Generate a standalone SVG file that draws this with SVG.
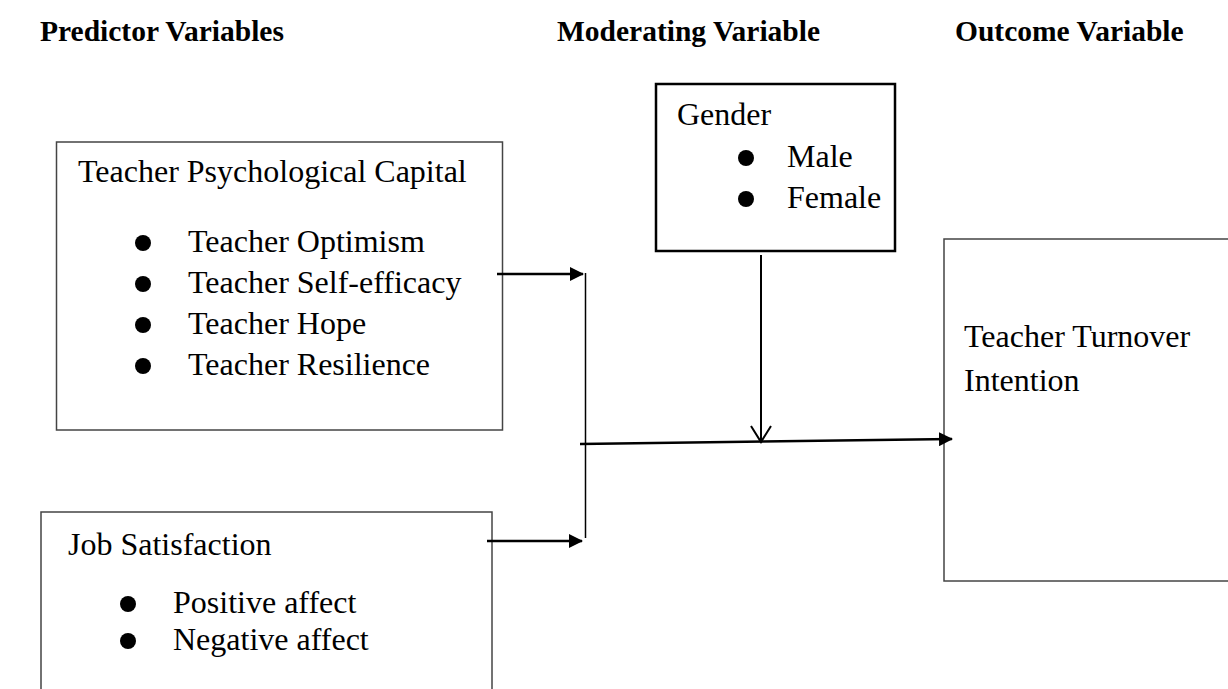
<svg xmlns="http://www.w3.org/2000/svg" width="1228" height="689" viewBox="0 0 1228 689">
<defs>
<style>
.hdr{font-family:"Liberation Serif","Times New Roman",serif;font-weight:bold;font-size:29.5px;fill:#000}
.t{font-family:"Liberation Serif","Times New Roman",serif;font-size:32px;fill:#000}
.box{fill:#fff;stroke:#444;stroke-width:1.5}
.conn{stroke:#000;fill:none}
</style>
<marker id="tri" viewBox="0 0 14 14" refX="13" refY="7" markerWidth="14" markerHeight="14" markerUnits="userSpaceOnUse" orient="auto">
<path d="M0,0 L14,7 L0,14 z" fill="#000"/>
</marker>
<marker id="vee" viewBox="0 0 24 24" refX="12" refY="22" markerWidth="24" markerHeight="24" markerUnits="userSpaceOnUse" orient="0">
<path d="M2,6 L12,22 L22,6" fill="none" stroke="#000" stroke-width="2"/>
</marker>
</defs>
<rect width="1228" height="689" fill="#fff"/>
<g id="headers">
<text class="hdr" x="40" y="41">Predictor Variables</text>
<text class="hdr" x="557" y="41">Moderating Variable</text>
<text class="hdr" x="955" y="41">Outcome Variable</text>
</g>
<g id="psycap">
<rect class="box" x="56.5" y="142" width="446" height="288"/>
<text class="t" x="78" y="182">Teacher Psychological Capital</text>
<circle cx="143" cy="243" r="8"/>
<circle cx="143" cy="284" r="8"/>
<circle cx="143" cy="325" r="8"/>
<circle cx="143" cy="366" r="8"/>
<text class="t" x="188" y="252">Teacher Optimism</text>
<text class="t" x="188" y="293">Teacher Self-efficacy</text>
<text class="t" x="188" y="334">Teacher Hope</text>
<text class="t" x="188" y="375">Teacher Resilience</text>
</g>
<g id="job">
<rect class="box" x="41" y="512" width="451" height="200"/>
<text class="t" x="68" y="555">Job Satisfaction</text>
<circle cx="128" cy="604" r="8"/>
<circle cx="128" cy="641" r="8"/>
<text class="t" x="173" y="613">Positive affect</text>
<text class="t" x="173" y="650">Negative affect</text>
</g>
<g id="gender">
<rect x="656" y="84" width="239" height="167" fill="#fff" stroke="#000" stroke-width="2.5"/>
<text class="t" x="677" y="125">Gender</text>
<circle cx="746" cy="158" r="8"/>
<circle cx="746" cy="199" r="8"/>
<text class="t" x="787" y="167">Male</text>
<text class="t" x="787" y="208">Female</text>
</g>
<g id="outcome">
<rect class="box" x="944" y="239" width="320" height="342"/>
<text class="t" x="964" y="347">Teacher Turnover</text>
<text class="t" x="964" y="391">Intention</text>
</g>
<g id="connectors">
<line class="conn" x1="497" y1="274" x2="583" y2="274" stroke-width="2.5" marker-end="url(#tri)"/>
<line class="conn" x1="585.5" y1="273" x2="585.5" y2="538" stroke-width="1.5"/>
<line class="conn" x1="487" y1="541" x2="582" y2="541" stroke-width="2.5" marker-end="url(#tri)"/>
<line class="conn" x1="580" y1="444" x2="952" y2="439" stroke-width="2.5" marker-end="url(#tri)"/>
<line class="conn" x1="761" y1="255" x2="761" y2="442" stroke-width="2" marker-end="url(#vee)"/>
</g>
</svg>
